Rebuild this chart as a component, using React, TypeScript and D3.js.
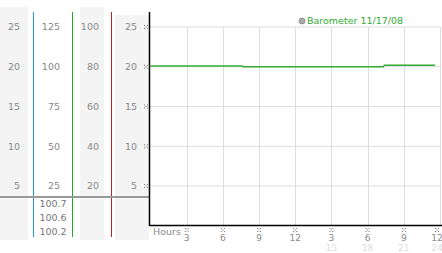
import React from "react";
import * as d3 from "d3";

const W = 442;
const H = 253;

const leftTicks = [5, 10, 15, 20, 25];
const col2Ticks = [25, 50, 75, 100, 125];
const col3Ticks = [20, 40, 60, 80, 100];
const col2Values = ["100.7", "100.6", "100.2"];
const hourTicks = [3, 6, 9, 12, 15, 18, 21, 24];
const hourLabels = ["3", "6", "9", "12", "3", "6", "9", "12"];
const hour24Labels = ["15", "18", "21", "24"];
const seriesName = "Barometer 11/17/08";
const seriesHours = [0, 7.6, 7.7, 19.3, 19.4, 23.6];
const seriesValues = [20.1, 20.1, 20.0, 20.0, 20.2, 20.2];

const FONT = "DejaVu Sans, Verdana, sans-serif";

function Marker({ x, y }: { x: number; y: number }) {
  const pts = [
    [-1.5, -1.5], [1.5, -1.5], [0, 0], [-1.5, 1.5], [1.5, 1.5],
  ];
  return (
    <g>
      {pts.map((p, i) => (
        <rect key={i} x={x + p[0] - 0.5} y={y + p[1] - 0.5} width={1} height={1} fill="#777" />
      ))}
    </g>
  );
}

export default function App() {
  const y = d3.scaleLinear().domain([0, 25]).range([225.75, 27]);
  const x = d3.scaleLinear().domain([0, 24]).range([150.5, 440]);
  const line = d3
    .line<number>()
    .x((_, i) => x(seriesHours[i]))
    .y((v) => y(v));

  return (
    <svg
      width={W}
      height={H}
      style={{ position: "absolute", left: 0, top: 0, background: "#fff" }}
      fontFamily={FONT}
    >
      {/* column backgrounds */}
      <rect x={0} y={7} width={28} height={233} fill="#f4f4f4" />
      <rect x={80} y={7} width={24} height={233} fill="#f4f4f4" />
      <rect x={115} y={15} width={34} height={225} fill="#f4f4f4" />

      {/* horizontal grid */}
      {leftTicks.map((t) => (
        <line key={t} x1={149} x2={440} y1={y(t)} y2={y(t)} stroke="#dddddd" />
      ))}
      {/* vertical grid */}
      {hourTicks.map((h) => (
        <line key={h} x1={Math.round(x(h)) + 0.5} x2={Math.round(x(h)) + 0.5} y1={y(25)} y2={226} stroke="#dddddd" />
      ))}

      {/* axis-separator lines */}
      <line x1={33.5} x2={33.5} y1={12} y2={237} stroke="#2299cc" />
      <line x1={72.5} x2={72.5} y1={12} y2={237} stroke="#22aa22" />
      <line x1={111.5} x2={111.5} y1={12} y2={237} stroke="#bb2222" />
      <line x1={0} x2={149} y1={197} y2={197} stroke="#999" strokeWidth={2} />

      {/* left labels */}
      {leftTicks.map((t) => (
        <text key={"a" + t} x={20} y={y(t)} dy="0.35em" textAnchor="end" fontSize={9.5} fill="#888">{t}</text>
      ))}
      {col2Ticks.map((t, i) => (
        <text key={"b" + t} x={60} y={y(leftTicks[i])} dy="0.35em" textAnchor="end" fontSize={9.5} fill="#888">{t}</text>
      ))}
      {col3Ticks.map((t, i) => (
        <text key={"c" + t} x={99} y={y(leftTicks[i])} dy="0.35em" textAnchor="end" fontSize={9.5} fill="#888">{t}</text>
      ))}
      {leftTicks.map((t) => (
        <text key={"d" + t} x={137} y={y(t)} dy="0.35em" textAnchor="end" fontSize={9.5} fill="#888">{t}</text>
      ))}
      {leftTicks.map((t) => (
        <Marker key={"m" + t} x={146} y={y(t)} />
      ))}
      {col2Values.map((v, i) => (
        <text key={"v" + v} x={53} y={204 + i * 14} dy="0.35em" textAnchor="middle" fontSize={9.5} fill="#777">{v}</text>
      ))}

      {/* data line */}
      <path d={line(seriesValues) || ""} fill="none" stroke="#33aa33" strokeWidth={1.5} />

      {/* axes */}
      <line x1={149.5} x2={149.5} y1={12} y2={226} stroke="#000" strokeWidth={1.5} />
      <line x1={149} x2={442} y1={225.5} y2={225.5} stroke="#000" strokeWidth={1.5} />

      {/* x labels */}
      <text x={153} y={232} dy="0.35em" fontSize={9.5} fill="#888">Hours</text>
      {hourTicks.map((h, i) => {
        const cx = Math.min(x(h), 437);
        return (
          <g key={"x" + h}>
            <Marker x={cx} y={230} />
            <text x={cx} y={237.5} dy="0.35em" textAnchor="middle" fontSize={9} fill="#888">{hourLabels[i]}</text>
          </g>
        );
      })}
      {hourTicks.slice(4).map((h, i) => {
        const cx = Math.min(x(h), 437);
        return (
          <text key={"z" + h} x={cx} y={247.5} dy="0.35em" textAnchor="middle" fontSize={9} fill="#dddddd">{hour24Labels[i]}</text>
        );
      })}

      {/* legend */}
      <circle cx={302} cy={21} r={3} fill="#aaa" stroke="#888" strokeWidth={0.8} />
      <text x={307} y={21} dy="0.35em" fontSize={9.5} fill="#33aa33">{seriesName}</text>
    </svg>
  );
}
